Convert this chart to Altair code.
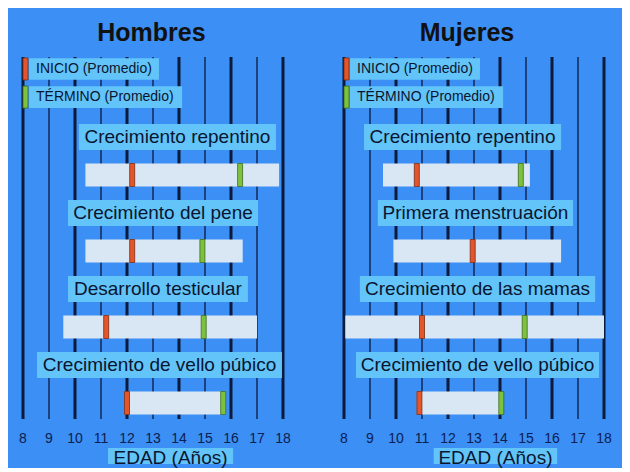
import altair as alt
import pandas as pd

# ---------------- data ----------------
AGES = list(range(8, 19))

H_LABELS = ["Crecimiento repentino", "Crecimiento del pene",
            "Desarrollo testicular", "Crecimiento de vello púbico"]
H_BAR_START = [10.4, 10.4, 9.55, 11.9]
H_BAR_END = [17.85, 16.45, 17.0, 15.8]
H_INICIO = [12.2, 12.2, 11.2, 12.0]
H_TERMINO = [16.35, 14.9, 14.95, 15.7]

M_LABELS = ["Crecimiento repentino", "Primera menstruación",
            "Crecimiento de las mamas", "Crecimiento de vello púbico"]
M_BAR_START = [9.5, 9.9, 8.05, 10.8]
M_BAR_END = [15.15, 16.35, 18.0, 14.1]
M_INICIO = [10.8, 12.95, 11.0, 10.9]
M_TERMINO = [14.8, None, 14.95, 14.05]

LEGEND_LABELS = ["INICIO (Promedio)", "TÉRMINO (Promedio)"]
TITLES = ["Hombres", "Mujeres"]
AXIS_TITLE = "EDAD (Años)"

# ---------------- layout (label boxes in years, rows) ----------------
H_LABEL_BOX = [(10.15, 17.73), (9.73, 17.04), (9.73, 16.65), (8.54, 17.96)]
M_LABEL_BOX = [(8.77, 16.35), (9.30, 16.81), (8.61, 17.66), (8.46, 17.81)]
LEGEND_BOX = [(8.23, 13.23), (8.23, 14.12)]
H_TITLE_X, M_TITLE_X = 12.94, 12.73
H_EDAD_BOX, M_EDAD_BOX = (11.27, 16.08), (11.45, 16.2)

W, H = 260, 362
PX_ROW = 38.0
ROW_MIN = -80 / PX_ROW
ROW_MAX = ROW_MIN + H / PX_ROW

BG = "#3b8ff5"
BOX = "#62c4f8"
BAR = "#d9e7f5"
RED = "#e4552b"
GREEN = "#7dc23e"
LINE = "#0b1a3d"
TXT = "#0a1530"
FONT = "Liberation Sans"

xs = alt.Scale(domain=[8, 18], nice=False, zero=False)
ys = alt.Scale(domain=[ROW_MIN, ROW_MAX], reverse=True, nice=False, zero=False)


def X(f):
    return alt.X(f, type="quantitative", scale=xs, axis=None)


def Y(f):
    return alt.Y(f, type="quantitative", scale=ys, axis=None)


def rows(px):
    return px / PX_ROW


def panel(labels, bs, be, ini, ter, boxes, title, title_x, edad_box, with_bg):
    n = len(labels)
    df = pd.DataFrame({
        "label": labels, "start": bs, "end": be, "inicio": ini, "termino": ter,
        "bx0": [b[0] for b in boxes], "bx1": [b[1] for b in boxes],
    })
    df["lrow"] = [2 * i for i in range(n)]
    df["brow"] = df["lrow"] + 1
    df["ly0"] = df["lrow"] - rows(13)
    df["ly1"] = df["lrow"] + rows(13)
    df["by0"] = df["brow"] - rows(11.5)
    df["by1"] = df["brow"] + rows(11.5)
    df["bxc"] = (df["bx0"] + df["bx1"]) / 2

    ages = pd.DataFrame({"age": AGES})
    base = alt.Chart(df)
    layers = []
    if with_bg:
        layers.append(alt.Chart(pd.DataFrame({"a": [0]})).mark_rect(color=BG).encode(
            x=alt.value(-15), x2=alt.value(599), y=alt.value(-49), y2=alt.value(407)))

    rule_base = alt.Chart(ages)
    layers.append(rule_base.transform_filter("datum.age % 2 == 0").mark_rule(
        color=LINE, strokeWidth=3).encode(x=X("age"), y=alt.value(0), y2=alt.value(H)))
    layers.append(rule_base.transform_filter("datum.age % 2 == 1").mark_rule(
        color=LINE, strokeWidth=1.3).encode(x=X("age"), y=alt.value(0), y2=alt.value(H)))

    # label boxes and texts
    layers.append(base.mark_rect(color=BOX).encode(x=X("bx0"), x2="bx1", y=Y("ly0"), y2="ly1"))
    layers.append(base.mark_text(font=FONT, fontSize=19, color=TXT, baseline="middle").encode(
        x=X("bxc"), y=Y("lrow"), text="label:N"))

    # bars
    layers.append(base.mark_rect(color=BAR).encode(x=X("start"), x2="end", y=Y("by0"), y2="by1"))
    layers.append(base.mark_tick(orient="vertical", thickness=5, size=23, color=RED,
                                 stroke="#7a2a10", strokeWidth=0.8, opacity=1).encode(
        x=X("inicio"), y=Y("brow")))
    layers.append(base.transform_filter("isValid(datum.termino)").mark_tick(
        orient="vertical", thickness=5, size=23, color=GREEN,
        stroke="#3d6a1a", strokeWidth=0.8, opacity=1).encode(x=X("termino"), y=Y("brow")))

    # legend
    leg = pd.DataFrame({
        "label": LEGEND_LABELS,
        "row": [-1.79, -1.05],
        "x0": [b[0] for b in LEGEND_BOX],
        "x1": [b[1] for b in LEGEND_BOX],
        "kind": ["inicio", "termino"],
    })
    leg["y0"] = leg["row"] - rows(10.8)
    leg["y1"] = leg["row"] + rows(10.8)
    leg["tx"] = 8.5
    leg["mx"] = 8.096
    lb = alt.Chart(leg)
    layers.append(lb.mark_rect(color=BOX).encode(x=X("x0"), x2="x1", y=Y("y0"), y2="y1"))
    layers.append(lb.mark_text(font=FONT, fontSize=14, color=TXT, align="left",
                               baseline="middle").encode(x=X("tx"), y=Y("row"), text="label:N"))
    layers.append(lb.mark_tick(orient="vertical", thickness=5, size=22, strokeWidth=0.8,
                               opacity=1).encode(
        x=X("mx"), y=Y("row"),
        color=alt.Color("kind:N", scale=alt.Scale(domain=["inicio", "termino"], range=[RED, GREEN]),
                        legend=None),
        stroke=alt.Stroke("kind:N", scale=alt.Scale(domain=["inicio", "termino"],
                                                     range=["#7a2a10", "#3d6a1a"]), legend=None)))

    # title
    tdf = pd.DataFrame({"t": [title], "x": [title_x], "row": [ROW_MIN + rows(-24)]})
    layers.append(alt.Chart(tdf).mark_text(font=FONT, fontSize=25, fontWeight="bold", color="#111111",
                                           baseline="middle").encode(x=X("x"), y=Y("row"), text="t:N"))

    # tick labels
    layers.append(alt.Chart(ages).mark_text(font=FONT, fontSize=14, color="#0d2050",
                                            baseline="middle").encode(
        x=X("age"), y=alt.value(382), text="age:N"))

    # axis title
    edf = pd.DataFrame({"t": [AXIS_TITLE], "x0": [edad_box[0]], "x1": [edad_box[1]],
                        "y0": [ROW_MIN + rows(391)], "y1": [ROW_MIN + rows(407)]})
    edf["xc"] = (edf["x0"] + edf["x1"]) / 2
    edf["yc"] = ROW_MIN + rows(400.5)
    eb = alt.Chart(edf)
    layers.append(eb.mark_rect(color=BOX).encode(x=X("x0"), x2="x1", y=Y("y0"), y2="y1"))
    layers.append(eb.mark_text(font=FONT, fontSize=19, color=TXT, baseline="middle").encode(
        x=X("xc"), y=Y("yc"), text="t:N"))

    return alt.layer(*layers).properties(width=W, height=H)


p1 = panel(H_LABELS, H_BAR_START, H_BAR_END, H_INICIO, H_TERMINO, H_LABEL_BOX,
           TITLES[0], H_TITLE_X, H_EDAD_BOX, True)
p2 = panel(M_LABELS, M_BAR_START, M_BAR_END, M_INICIO, M_TERMINO, M_LABEL_BOX,
           TITLES[1], M_TITLE_X, M_EDAD_BOX, False)

chart = alt.HConcatChart(hconcat=[p1, p2], spacing=61, bounds="flush").properties(
    padding=0, background=BG
).configure_view(stroke=None).resolve_scale(color="independent", stroke="independent")

chart.save("out.html", embed_options={"renderer": "svg", "actions": False})
